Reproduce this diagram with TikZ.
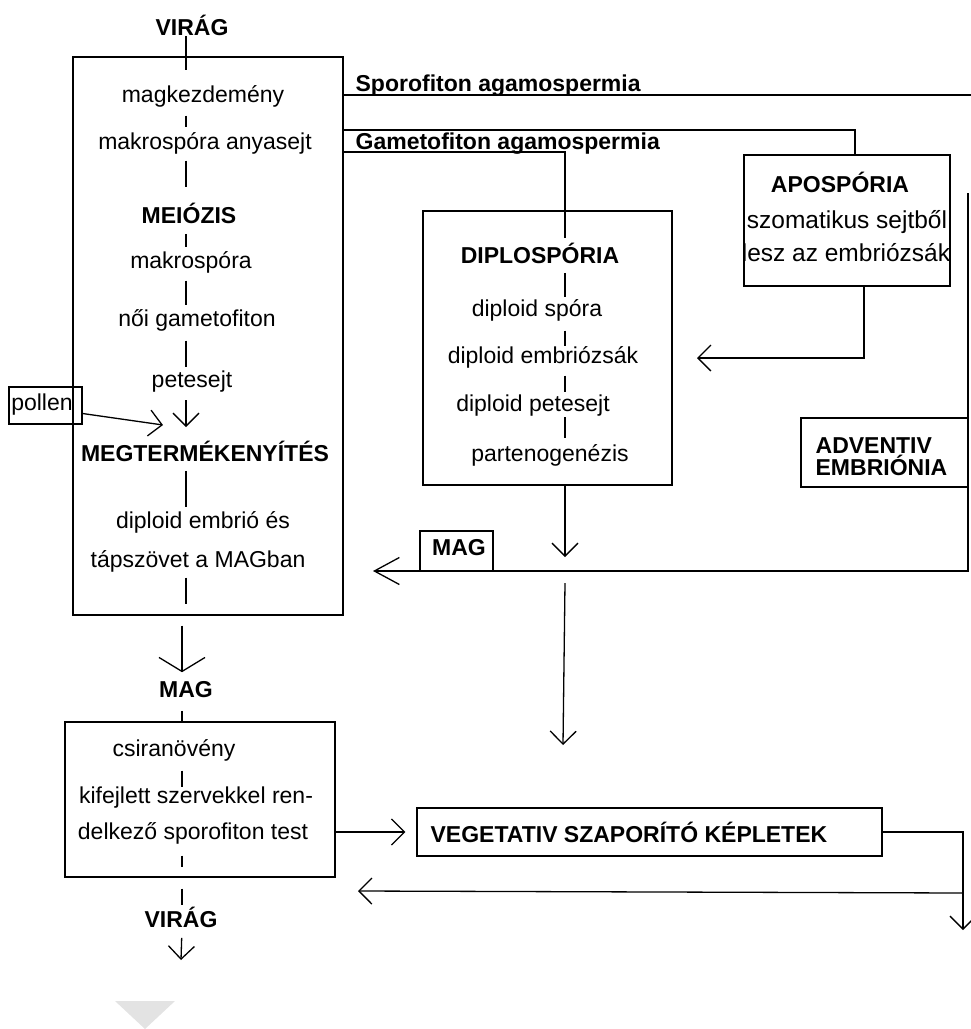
\documentclass[tikz,border=0pt]{standalone}
\usepackage{fontspec}
\setmainfont{Liberation Sans}
\usetikzlibrary{arrows.meta,fit}

\tikzset{
    txt/.style={font=\fontsize{23}{25}\selectfont, inner sep=0pt},
    wtxt/.style={font=\fontsize{24.5}{26}\selectfont, inner sep=0pt},
    btxt/.style={font=\fontsize{23}{22}\selectfont\bfseries, inner sep=0pt},
    box/.style={draw, inner sep=0pt},
    arr/.style={-{Straight Barb[length=13pt,width=26pt]}},
    bigarr/.style={-{Straight Barb[length=14pt,width=46pt]}},
    longarr/.style={-{Straight Barb[length=25pt,width=27pt]}}
}

\begin{document}
\begin{tikzpicture}[x=1pt,y=-1pt,line width=1.3pt]
    \useasboundingbox (0,0) rectangle (971,1029);
    \coordinate (sp) at (186,0);
    \coordinate (sq) at (182,0);
    \coordinate (sd) at (565,0);

    % Boxes %
    \node[box, fit={(73,57) (343,615)}] (lbox) {};
    \node[box, fit={(65,722) (335,877)}] (kbox) {};
    \node[box, fit={(423,211) (672,485)}] (dbox) {};
    \node[box, fit={(744,155) (950,286)}] (abox) {};
    \node[box, fit={(801,418) (968,487)}] (ebox) {};
    \node[box, fit={(417,808) (882,856)}] (vbox) {};
    \node[box, fit={(9,387) (82,424)}] (pollen) {};
    \node[box, fit={(420,531) (493,571)}] (magbox) {};
    \node[txt] (poltxt) at (42,405) {pollen};
    \node[btxt] (magtxt) at (459,548) {MAG};

    % Sexual cycle %
    \node[btxt] (virag1) at (192,25) {VIRÁG};
    \node[txt] (magk) at (203,96) {magkezdemény};
    \node[txt] (anya) at (205,143) {makrospóra anyasejt};
    \node[btxt] (meioz) at (189,213) {MEIÓZIS};
    \node[txt] (makro) at (191,262) {makrospóra};
    \node[txt] (noi) at (197,320) {női gametofiton};
    \node[txt] (pete) at (192,382) {petesejt};
    \node[btxt] (megt) at (205,451) {MEGTERMÉKENYÍTÉS};
    \node[txt] (embr) at (203,522) {diploid embrió és};
    \node[txt] (tapsz) at (198,561) {tápszövet a MAGban};
    \node[btxt] (mag1) at (186,690) {MAG};
    \node[txt] (csira) at (174,750) {csiranövény};
    \node[txt] (kif) at (196,798) {kifejlett szervekkel ren-};
    \node[txt] (delk) at (193,833) {delkező sporofiton test};
    \node[btxt] (virag2) at (181,917) {VIRÁG};

    \draw[shorten >=15pt] (virag1.south -| sp) -- (magk.north -| sp);
    \draw[shorten <=8pt, shorten >=5pt] (magk.south -| sp) -- (anya.north -| sp);
    \draw[shorten <=6pt, shorten >=15pt] (anya.south -| sp) -- (meioz.north -| sp);
    \draw[shorten <=10pt, shorten >=4pt] (meioz.south -| sp) -- (makro.north -| sp);
    \draw[shorten <=7pt, shorten >=4pt] (makro.south -| sp) -- (noi.north -| sp);
    \draw[shorten <=9pt, shorten >=4pt] (noi.south -| sp) -- (pete.north -| sp);
    \draw[arr, shorten <=7pt, shorten >=13pt] (pete.south -| sp) -- (megt.north -| sp);
    \draw[shorten <=9pt, shorten >=4pt] (megt.south -| sp) -- (embr.north -| sp);
    \draw[shorten <=5pt, shorten >=12pt] (tapsz.south -| sp) -- (lbox.south -| sp);
    \draw[bigarr, shorten <=10pt, shorten >=9pt] (lbox.south -| sq) -- (mag1.north -| sq);
    \draw[shorten <=12pt] (mag1.south -| sq) -- (kbox.north -| sq);
    \draw[shorten <=9pt] (csira.south -| sq) -- (kif.north -| sq);
    \draw[shorten <=11pt, shorten >=11pt] (delk.south -| sq) -- (kbox.south -| sq);
    \draw[shorten <=11pt, shorten >=1pt] (kbox.south -| sq) -- (virag2.north -| sq);
    \coordinate (fEnd) at (181,960);
    \draw[arr, shorten <=10pt] (virag2.south -| sq) -- (fEnd);

    % Pollen %
    \coordinate (pTip) at (163,425);
    \draw[arr] ([yshift=-8pt]pollen.east) -- (pTip);

    % Agamospermia branches %
    \coordinate (spoA) at (971,95);
    \coordinate (gamB) at (855,130);
    \coordinate (gamC) at (565,152);
    \draw (lbox.east |- spoA) -- (spoA);
    \draw (lbox.east |- gamB) -- (gamB) -- (abox.north -| gamB);
    \node[btxt, anchor=base west] (spot) at (355,91) {Sporofiton agamospermia};
    \node[btxt, anchor=base west] (gamt) at (355,149) {Gametofiton agamospermia};

    % Diplosporia %
    \node[btxt] (dipl) at (540,253) {DIPLOSPÓRIA};
    \node[txt] (spora) at (537,310) {diploid spóra};
    \node[txt] (zsak) at (543,357) {diploid embriózsák};
    \node[txt] (dpete) at (533,406) {diploid petesejt};
    \node[txt] (parte) at (550,455) {partenogenézis};
    \draw[shorten >=4pt] (lbox.east |- gamC) -- (gamC) -- (dipl.north -| sd);
    \draw[shorten <=9pt, shorten >=2pt] (dipl.south -| sd) -- (spora.north -| sd);
    \draw[shorten <=9pt] (spora.south -| sd) -- (zsak.north -| sd);
    \draw[shorten <=7pt, shorten >=3pt] (zsak.south -| sd) -- (dpete.north -| sd);
    \draw[shorten >=6pt] (dpete.south -| sd) -- (parte.north -| sd);
    \coordinate (dTip) at (565,557);
    \coordinate (dLow) at (565,583);
    \coordinate (dEnd) at (563,745);
    \draw[arr] (dbox.south -| sd) -- (dTip);
    \draw[arr] (dLow) -- (dEnd);

    % Aposporia %
    \node[btxt] (apos) at (840,182) {APOSPÓRIA};
    \node[wtxt] (szom) at (847,222) {szomatikus sejtből};
    \node[wtxt] (lesz) at (846,253) {lesz az embriózsák};
    \coordinate (aTip) at (697,358);
    \draw[arr] ([xshift=17pt]abox.south) |- (aTip);

    % Adventiv embrionia %
    \node[btxt, anchor=west, align=left] (advt) at (815,457) {ADVENTIV\\EMBRIÓNIA};
    \coordinate (rTop) at (968,193);
    \coordinate (rCor) at (968,571);
    \coordinate (mTip) at (373,571);
    \draw[longarr] (rTop) -- (rCor) -- (mTip);

    % Vegetative %
    \node[btxt, anchor=west] (vtxt) at (430,832) {VEGETATIV SZAPORÍTÓ KÉPLETEK};
    \coordinate (vDown) at (963,930);
    \coordinate (vBack) at (963,893);
    \coordinate (vTip) at (358,891);
    \draw[arr] (kbox.east |- vbox.west) -- ([xshift=-11pt]vbox.west);
    \draw[arr] (vbox.east) -| (vDown);
    \draw[arr] (vBack) -- (vTip);

    \fill[gray!22] (115,1001) -- (175,1001) -- (145,1029) -- cycle;
\end{tikzpicture}
\end{document}
